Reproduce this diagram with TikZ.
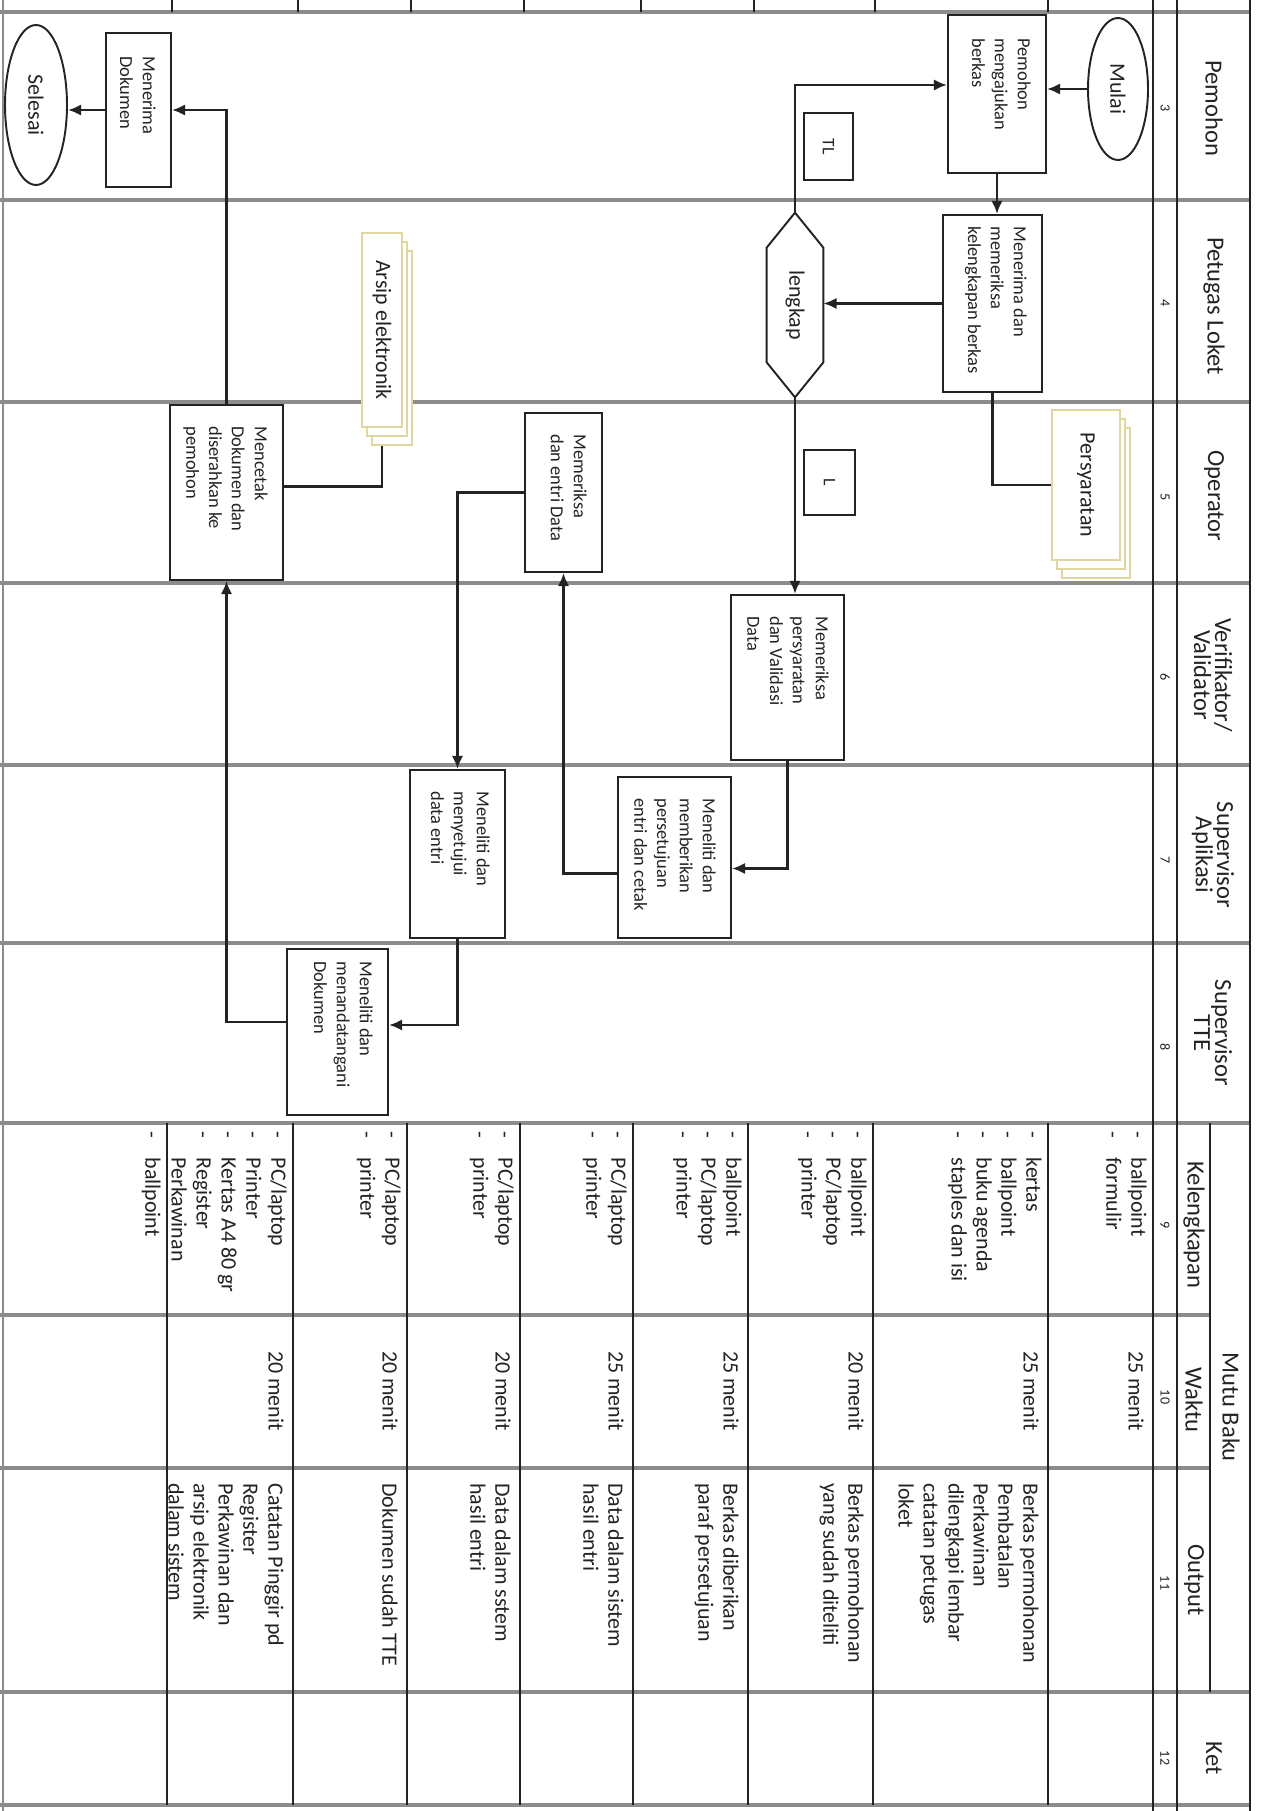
\documentclass[tikz,border=0pt]{standalone}
\usepackage{fontspec}
\setmainfont{Carlito}
\usetikzlibrary{fit,calc,shapes.geometric,arrows.meta}

\definecolor{ink}{RGB}{35,35,35}
\definecolor{sepgray}{RGB}{140,140,140}
\definecolor{docedge}{RGB}{226,214,160}

\newcommand{\bul}{\makebox[1.2em][l]{-}}

\begin{document}
\begin{tikzpicture}[x=0.02cm, y=-0.02cm,
    box/.style={draw=ink, line width=1.1pt, inner sep=0pt},
    term/.style={ellipse, draw=ink, line width=1.1pt, inner sep=0pt},
    doc/.style={draw=docedge, fill=white, line width=0.8pt, inner sep=0pt},
    flow/.style={-{Latex[length=7.5pt,width=6.5pt]}, draw=ink, line width=1.5pt},
    link/.style={draw=ink, line width=1.5pt},
    lane/.style={draw=sepgray, line width=1.8pt},
    tabline/.style={draw=ink, line width=0.6pt},
    boxtext/.style={rotate=-90, anchor=north west, align=left, inner sep=0pt, text=ink, font=\fontsize{10.5}{13}\selectfont},
    termtext/.style={rotate=-90, inner sep=0pt, text=ink, font=\fontsize{12.5}{14}\selectfont},
    celltext/.style={rotate=-90, anchor=north west, align=left, inner sep=0pt, text=ink, font=\fontsize{12.5}{14.2}\selectfont},
    head/.style={rotate=-90, align=center, inner sep=0pt, text=ink, font=\fontsize{14}{12}\selectfont},
    num/.style={rotate=-90, inner sep=0pt, text=ink, font=\fontsize{8}{9}\selectfont}]

\useasboundingbox (0,0) rectangle (1263,1811);

% lanes and table
\draw[lane] (0,12) -- (1250,12);
\draw[lane] (0,200) -- (1250,200);
\draw[lane] (0,402) -- (1250,402);
\draw[lane] (0,583) -- (1250,583);
\draw[lane] (0,765) -- (1250,765);
\draw[lane] (0,943) -- (1250,943);
\draw[lane] (0,1123) -- (1250,1123);
\draw[lane] (0,1315) -- (1210,1315);
\draw[lane] (0,1468) -- (1210,1468);
\draw[lane] (0,1692) -- (1250,1692);
\draw[lane] (0,1805) -- (1250,1805);
\draw[tabline, sepgray] (3,0) -- (3,1811);
\draw[tabline] (1153,0) -- (1153,1811);
\draw[tabline] (1177,0) -- (1177,1811);
\draw[tabline] (1250,0) -- (1250,1811);
\draw[tabline] (1210,1123) -- (1210,1692);
\draw[tabline] (172,0) -- (172,12);
\draw[tabline] (298,0) -- (298,12);
\draw[tabline] (411,0) -- (411,12);
\draw[tabline] (524,0) -- (524,12);
\draw[tabline] (641,0) -- (641,12);
\draw[tabline] (754,0) -- (754,12);
\draw[tabline] (875,0) -- (875,12);
\draw[tabline] (1048,0) -- (1048,12);
\draw[tabline] (167,1123) -- (167,1805);
\draw[tabline] (293,1123) -- (293,1805);
\draw[tabline] (407,1123) -- (407,1805);
\draw[tabline] (520,1123) -- (520,1805);
\draw[tabline] (633,1123) -- (633,1805);
\draw[tabline] (748,1123) -- (748,1805);
\draw[tabline] (873,1123) -- (873,1805);
\draw[tabline] (1048,1123) -- (1048,1805);

% header column
\node[head] (hpemohon) at (1214,108) {Pemohon};
\node[head] (hloket) at (1214,306) {Petugas Loket};
\node[head] (hoperator) at (1214,496) {Operator};
\node[head] (hverif) at (1213,675) {Verifikator/\\Validator};
\node[head] (haplikasi) at (1213,855) {Supervisor\\Aplikasi};
\node[head] (htte) at (1213,1033) {Supervisor\\TTE};
\node[head] (hkelengkapan) at (1194,1225) {Kelengkapan};
\node[head] (hwaktu) at (1194,1400) {Waktu};
\node[head] (hmutu) at (1231,1407) {Mutu Baku};
\node[head] (houtput) at (1194,1580) {Output};
\node[head] (hket) at (1214,1758) {Ket};
\node[num] (n3) at (1165,108) {3};
\node[num] (n4) at (1165,303) {4};
\node[num] (n5) at (1165,497) {5};
\node[num] (n6) at (1165,677) {6};
\node[num] (n7) at (1165,860) {7};
\node[num] (n8) at (1165,1047) {8};
\node[num] (n9) at (1165,1225) {9};
\node[num] (n10) at (1165,1397) {10};
\node[num] (n11) at (1165,1583) {11};
\node[num] (n12) at (1165,1758) {12};

% flow
\node[term, minimum width=1.2cm, minimum height=2.84cm] (mulai) at (1118,89) {};
\node[termtext] (mulaitext) at (mulai) {Mulai};
\node[box, fit={(948,15) (1046,173)}] (pemohonbox) {};
\node[boxtext] (pemohontext) at ($(pemohonbox.north east)+(-16,24)$) {Pemohon\\mengajukan\\berkas};
\node[box, fit={(943,215) (1042,392)}] (kelengkapan) {};
\node[boxtext] (kelengkapantext) at ($(kelengkapan.north east)+(-16,12)$) {Menerima dan\\memeriksa\\kelengkapan berkas};
\node[inner sep=0pt, fit={(767,213) (823,397)}] (lengkap) {};
\draw[box] (lengkap.north) -- ($(lengkap.north east)+(0,35)$) -- ($(lengkap.south east)+(0,-35)$)
  -- (lengkap.south) -- ($(lengkap.south west)+(0,-35)$) -- ($(lengkap.north west)+(0,35)$) -- cycle;
\node[termtext] (lengkaptext) at (lengkap) {lengkap};
\node[box, line width=0.8pt, fit={(804,113) (853,180)}] (tl) {};
\node[termtext, font=\fontsize{10}{12}\selectfont] (tltext) at (tl) {TL};
\node[box, line width=0.8pt, fit={(804,450) (855,515)}] (l) {};
\node[termtext, font=\fontsize{10}{12}\selectfont] (ltext) at (l) {L};

\node[doc, fit={(1062,428) (1130,578)}] (persyaratan3) {};
\node[doc, fit={(1057,419) (1125,569)}] (persyaratan2) {};
\node[doc, fit={(1052,410) (1120,560)}] (persyaratan) {};
\node[termtext] (persyaratantext) at (persyaratan) {Persyaratan};
\node[doc, fit={(372,251) (412,445)}] (arsip3) {};
\node[doc, fit={(367,242) (407,436)}] (arsip2) {};
\node[doc, fit={(362,233) (402,427)}] (arsip) {};
\node[termtext] (arsiptext) at (arsip) {Arsip elektronik};

\node[box, fit={(731,595) (844,760)}] (verifbox) {};
\node[boxtext] (veriftext) at ($(verifbox.north east)+(-16,22)$) {Memeriksa\\persyaratan\\dan Validasi\\Data};
\node[box, fit={(618,777) (731,938)}] (setujubox) {};
\node[boxtext] (setujutext) at ($(setujubox.north east)+(-16,22)$) {Meneliti dan\\memberikan\\persetujuan\\entri dan cetak};
\node[box, fit={(410,770) (505,938)}] (menyetujuibox) {};
\node[boxtext] (menyetujuitext) at ($(menyetujuibox.north east)+(-16,22)$) {Meneliti dan\\menyetujui\\data entri};
\node[box, fit={(525,413) (602,572)}] (entribox) {};
\node[boxtext] (entritext) at ($(entribox.north east)+(-16,22)$) {Memeriksa\\dan entri Data};
\node[box, fit={(170,405) (283,580)}] (mencetakbox) {};
\node[boxtext] (mencetaktext) at ($(mencetakbox.north east)+(-16,22)$) {Mencetak\\Dokumen dan\\diserahkan ke\\pemohon};
\node[box, fit={(287,949) (388,1115)}] (ttebox) {};
\node[boxtext] (ttetext) at ($(ttebox.north east)+(-16,13)$) {Meneliti dan\\menandatangani\\Dokumen};
\node[box, fit={(106,33) (171,187)}] (dokbox) {};
\node[boxtext] (doktext) at ($(dokbox.north east)+(-16,24)$) {Menerima\\Dokumen};
\node[term, minimum width=1.24cm, minimum height=3.2cm] (selesai) at (36,105) {};
\node[termtext] (selesaitext) at (selesai) {Selesai};

\draw[flow] (mulai.west) -- (mulai.west -| pemohonbox.east);
\draw[flow] (pemohonbox.south) -- (pemohonbox.south |- kelengkapan.north);
\draw[flow] (kelengkapan.west) -- (kelengkapan.west -| lengkap.east);
\draw[flow] (lengkap.north) |- ($(pemohonbox.west)+(0,-9)$);
\draw[flow] (lengkap.south) -- (lengkap.south |- verifbox.north);
\draw[link] (kelengkapan.south) |- (persyaratan.west);
\draw[flow] (verifbox.south) |- ($(setujubox.east)+(0,11)$);
\draw[flow] ($(setujubox.west)+(0,16)$) -| (entribox.south);
\draw[flow] (entribox.west) -| (menyetujuibox.north);
\draw[flow] (menyetujuibox.south) |- ($(ttebox.east)+(0,-7)$);
\draw[flow] ($(ttebox.west)+(0,-10)$) -| (mencetakbox.south);
\draw[link] ($(mencetakbox.east)+(0,-6)$) -| (arsip.south |- arsip3.south);
\draw[flow] (mencetakbox.north) |- (dokbox.east);
\draw[flow] (dokbox.west) -- (dokbox.west -| selesai.east);

% mutu baku
\node[celltext] (k1) at (1147,1131) {\bul ballpoint\\\bul formulir};
\node[celltext] (k2) at (1042,1131) {\bul kertas\\\bul ballpoint\\\bul buku agenda\\\bul staples dan isi};
\node[celltext] (k3) at (867,1131) {\bul ballpoint\\\bul PC/laptop\\\bul printer};
\node[celltext] (k4) at (742,1131) {\bul ballpoint\\\bul PC/laptop\\\bul printer};
\node[celltext] (k5) at (627,1131) {\bul PC/laptop\\\bul printer};
\node[celltext] (k6) at (514,1131) {\bul PC/laptop\\\bul printer};
\node[celltext] (k7) at (401,1131) {\bul PC/laptop\\\bul printer};
\node[celltext] (k8) at (287,1131) {\bul PC/laptop\\\bul Printer\\\bul Kertas A4 80 gr\\\bul Register\\\hspace*{1.2em}Perkawinan};
\node[celltext] (k9) at (161,1131) {\bul ballpoint};

\node[celltext, anchor=north] (w1) at (1144,1391) {25 menit};
\node[celltext, anchor=north] (w2) at (1039,1391) {25 menit};
\node[celltext, anchor=north] (w3) at (864,1391) {20 menit};
\node[celltext, anchor=north] (w4) at (739,1391) {25 menit};
\node[celltext, anchor=north] (w5) at (624,1391) {25 menit};
\node[celltext, anchor=north] (w6) at (511,1391) {20 menit};
\node[celltext, anchor=north] (w7) at (398,1391) {20 menit};
\node[celltext, anchor=north] (w8) at (284,1391) {20 menit};

\node[celltext] (o2) at (1039,1483) {Berkas permohonan\\Pembatalan\\Perkawinan\\dilengkapi lembar\\catatan petugas\\loket};
\node[celltext] (o3) at (864,1483) {Berkas permohonan\\yang sudah diteliti};
\node[celltext] (o4) at (739,1483) {Berkas diberikan\\paraf persetujuan};
\node[celltext] (o5) at (624,1483) {Data dalam sistem\\hasil entri};
\node[celltext] (o6) at (511,1483) {Data dalam sstem\\hasil entri};
\node[celltext] (o7) at (398,1483) {Dokumen sudah TTE};
\node[celltext] (o8) at (284,1483) {Catatan Pinggir pd\\Register\\Perkawinan dan\\arsip elektronik\\dalam sistem};
\end{tikzpicture}
\end{document}
